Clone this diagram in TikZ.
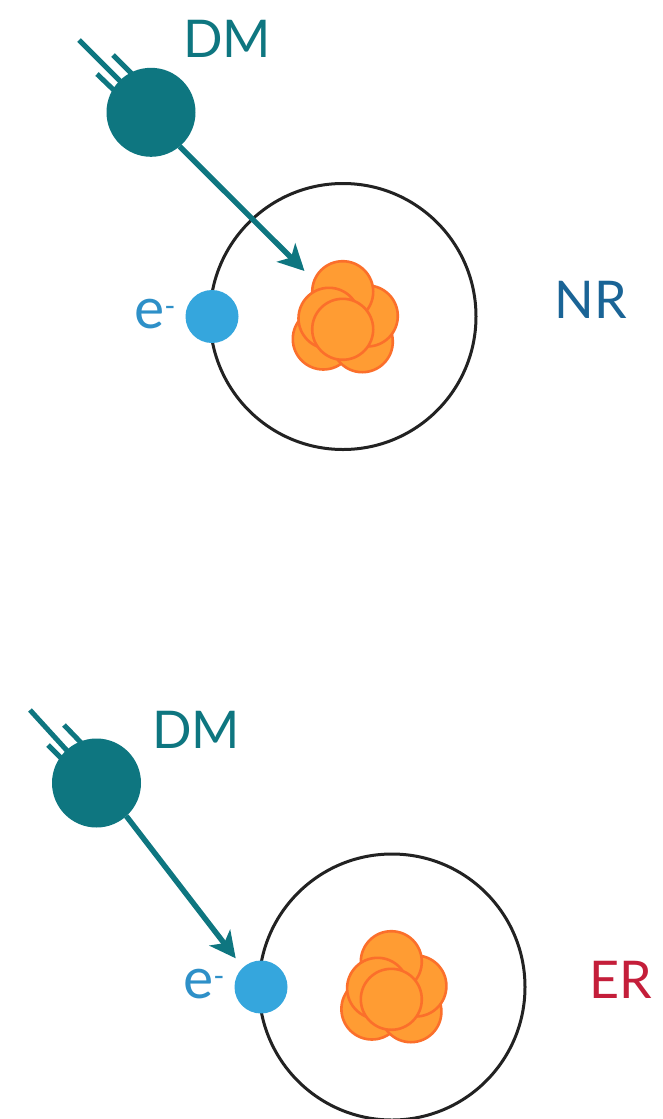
\documentclass[tikz,border=0pt]{standalone}
\usepackage{fontspec}
\setmainfont{Lato}
\usetikzlibrary{arrows.meta}
\definecolor{dmteal}{HTML}{0E7680}
\definecolor{elecblue}{HTML}{35A6DD}
\definecolor{eleclabel}{HTML}{2E90C8}
\definecolor{nucfill}{HTML}{FF9C33}
\definecolor{nucline}{HTML}{FB6F2B}
\definecolor{nrblue}{HTML}{1A6496}
\definecolor{erred}{HTML}{C41E3A}
\definecolor{orbit}{HTML}{222222}
\tikzset{
  dmball/.style={circle,fill=dmteal,minimum size=89pt,inner sep=0pt,outer sep=0pt},
  electron/.style={circle,fill=elecblue,minimum size=53pt,inner sep=0pt,outer sep=0pt},
  orbitring/.style={circle,draw=orbit,line width=3pt,minimum size=266pt,inner sep=0pt,outer sep=0pt},
  nucleon/.style={circle,draw=nucline,fill=nucfill,line width=2.6pt,minimum size=61pt,inner sep=0pt,outer sep=0pt},
  trail/.style={draw=dmteal,line width=5pt},
  hit/.style={draw=dmteal,line width=5.4pt,-{Stealth[length=26pt,width=26pt,inset=7pt]}},
  dmlabel/.style={text=dmteal,font=\fontsize{52}{52}\selectfont,anchor=base,inner sep=0pt},
  elabel/.style={text=eleclabel,font=\fontsize{57}{57}\selectfont,anchor=base,inner sep=0pt},
  kindlabel/.style={font=\fontsize{52}{52}\selectfont,anchor=base,inner sep=0pt}
}
\newcommand{\nucleus}[3]{%
  \begin{scope}[shift={(#1,#2)}]
    \node[nucleon] (#3a) at (-19.7,22.5) {};
    \node[nucleon] (#3b) at (19.3,25.2) {};
    \node[nucleon] (#3c) at (24.3,-0.5) {};
    \node[nucleon] (#3d) at (-0.3,-24.8) {};
    \node[nucleon] (#3e) at (-14,1.8) {};
    \node[nucleon] (#3f) at (-0.3,12.8) {};
  \end{scope}}
\begin{document}
\begin{tikzpicture}[x=1pt,y=-1pt]
\useasboundingbox (0,0) rectangle (662,1119);
\fill[white] (0,0) rectangle (662,1119);

% Nuclear recoil panel
\coordinate (t1a) at (79,40);
\coordinate (t1ae) at (135,96);
\coordinate (t1b) at (113,55);
\coordinate (t1be) at (140,82);
\coordinate (t1c) at (97,74);
\coordinate (t1ce) at (122,98);
\coordinate (tip1) at (304.5,271);
\draw[trail] (t1a) -- (t1ae);
\draw[trail] (t1b) -- (t1be);
\draw[trail] (t1c) -- (t1ce);
\node[orbitring] (ring1) at (343,316.5) {};
\node[dmball] (dm1) at (151,112.3) {};
\draw[hit] (dm1.-50) -- (tip1);
\node[electron] (el1) at (212,316.5) {};
\nucleus{343}{316.5}{n}
\node[dmlabel] (dmtxt1) at (227,57) {DM};
\node[elabel] (etxt1) at (155,328) {e\raisebox{12pt}{\fontsize{30}{30}\selectfont -}};
\node[kindlabel,text=nrblue] (nr) at (591,318) {NR};

% Electron recoil panel
\coordinate (t2a) at (30,710);
\coordinate (t2ae) at (81,766);
\coordinate (t2b) at (64,725);
\coordinate (t2be) at (90,752);
\coordinate (t2c) at (48,745);
\coordinate (t2ce) at (72,769);
\coordinate (tip2) at (235.7,958.3);
\draw[trail] (t2a) -- (t2ae);
\draw[trail] (t2b) -- (t2be);
\draw[trail] (t2c) -- (t2ce);
\node[orbitring] (ring2) at (392,987) {};
\node[dmball] (dm2) at (96.5,783) {};
\draw[hit] (dm2.-48) -- (tip2);
\node[electron] (el2) at (261,987) {};
\nucleus{391.6}{986.5}{m}
\node[dmlabel] (dmtxt2) at (196,748) {DM};
\node[elabel] (etxt2) at (204,998) {e\raisebox{12pt}{\fontsize{30}{30}\selectfont -}};
\node[kindlabel,text=erred] (er) at (621,998) {ER};
\end{tikzpicture}
\end{document}
